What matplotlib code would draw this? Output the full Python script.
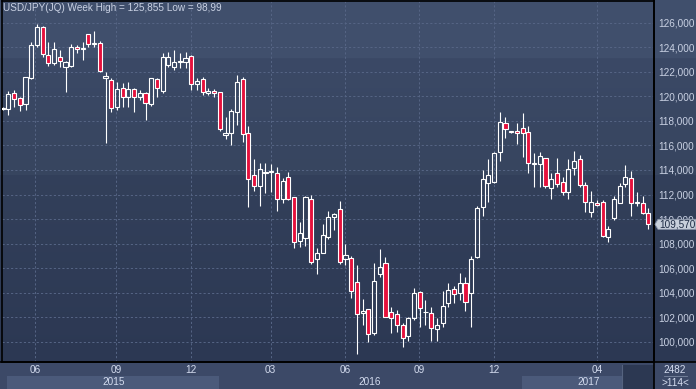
import numpy as np
import matplotlib
matplotlib.use("Agg")
import matplotlib.pyplot as plt
from matplotlib.colors import to_rgb
from matplotlib.patches import Rectangle, Polygon
from matplotlib.lines import Line2D

plt.rcParams['font.family'] = ['Liberation Sans', 'DejaVu Sans']

# weekly USD/JPY candles
opens = [118.95, 118.94, 120.25, 119.84, 119.37, 121.52, 124.18, 125.62, 123.34, 122.74,
         123.23, 122.37, 122.47, 124.04, 123.85, 125.05, 124.30, 124.32, 121.52, 121.33,
         119.15, 120.65, 119.97, 120.57, 119.97, 120.25, 119.37, 121.39, 120.46, 122.55,
         122.41, 122.80, 122.77, 123.29, 121.00, 121.39, 120.30, 120.46, 120.33, 116.82,
         116.99, 118.75, 121.41, 116.99, 113.59, 112.69, 113.74, 113.85, 113.73, 111.61,
         113.40, 111.77, 108.23, 108.43, 111.61, 106.72, 107.26, 108.56, 110.19, 110.79,
         106.72, 106.80, 104.84, 102.32, 102.64, 100.69, 105.52, 106.39, 102.45, 102.23,
         101.36, 100.49, 101.91, 104.08, 102.40, 102.32, 101.01, 101.50, 103.13, 104.27,
         104.00, 104.76, 103.95, 106.88, 110.96, 112.91, 113.04, 115.49, 117.85, 117.10,
         117.17, 117.39, 117.12, 114.50, 114.48, 114.95, 112.55, 113.73, 113.04, 112.23,
         114.13, 114.87, 112.77, 110.60, 111.33, 111.36, 108.56, 110.06, 111.33, 112.83,
         113.32, 111.41, 111.28, 110.52]
highs = [119.10, 120.46, 120.52, 119.97, 121.60, 124.45, 125.855, 125.73, 124.45, 124.45,
         123.78, 122.90, 124.24, 124.18, 124.45, 125.10, 125.32, 124.53, 122.01, 121.50,
         121.20, 121.11, 121.20, 120.65, 120.52, 120.35, 121.50, 121.47, 123.55, 123.64,
         123.78, 123.55, 123.64, 123.37, 121.49, 121.60, 120.65, 120.57, 120.35, 118.34,
         118.94, 121.74, 121.55, 117.58, 114.87, 114.59, 114.54, 114.46, 114.21, 113.32,
         113.81, 111.82, 109.78, 111.88, 111.96, 107.61, 109.57, 110.68, 110.47, 111.47,
         107.96, 106.99, 106.25, 103.46, 102.67, 106.39, 107.56, 106.88, 102.85, 102.58,
         101.55, 102.04, 104.35, 104.16, 103.40, 102.85, 101.91, 104.16, 104.76, 104.54,
         105.57, 105.30, 106.99, 111.06, 113.99, 114.87, 115.49, 118.70, 118.34, 117.20,
         117.85, 118.62, 117.58, 115.36, 115.49, 114.97, 113.73, 114.95, 113.45, 114.87,
         115.54, 115.22, 113.04, 112.31, 111.55, 111.55, 109.43, 111.88, 112.91, 114.40,
         113.94, 112.23, 111.88, 110.87]
lows = [118.85, 118.48, 119.15, 118.80, 118.90, 121.45, 124.00, 123.23, 122.47, 122.55,
        122.41, 120.38, 122.40, 123.55, 122.96, 124.04, 124.04, 121.95, 116.17, 118.75,
        118.90, 119.10, 119.15, 118.75, 119.70, 118.07, 119.21, 119.97, 120.25, 122.41,
        122.15, 122.28, 122.28, 120.52, 120.52, 120.11, 120.11, 119.97, 117.17, 116.50,
        116.01, 117.66, 116.30, 111.00, 112.31, 111.06, 112.14, 112.23, 110.68, 111.28,
        111.55, 107.61, 107.74, 107.80, 106.31, 105.52, 107.21, 108.37, 109.10, 106.31,
        106.25, 103.59, 98.99, 101.36, 100.00, 100.55, 105.30, 102.00, 100.73, 100.82,
        99.59, 100.08, 101.77, 101.22, 101.36, 100.08, 100.08, 101.22, 102.85, 103.13,
        103.40, 102.53, 101.22, 106.82, 110.25, 111.41, 112.91, 114.75, 116.58, 117.00,
        116.11, 115.08, 113.77, 112.63, 112.63, 112.53, 111.61, 112.63, 111.96, 111.63,
        113.59, 112.63, 110.60, 110.14, 111.06, 108.56, 108.15, 109.91, 111.28, 112.63,
        110.25, 111.06, 110.41, 109.16]
closes = [119.00, 120.16, 119.76, 119.27, 121.55, 124.18, 125.62, 123.42, 122.69, 123.83,
          122.88, 122.80, 124.04, 123.83, 123.88, 124.26, 124.33, 122.06, 121.68, 119.02,
          120.57, 119.97, 120.57, 119.92, 120.25, 119.43, 121.47, 120.65, 123.18, 123.23,
          122.82, 122.84, 123.10, 120.98, 121.27, 120.33, 120.46, 120.25, 117.31, 116.99,
          118.83, 121.19, 116.93, 113.24, 112.69, 114.05, 113.80, 113.90, 111.61, 113.07,
          111.66, 108.10, 108.84, 111.82, 106.52, 107.21, 108.70, 110.14, 110.38, 106.52,
          107.07, 104.16, 102.23, 102.53, 100.63, 104.95, 106.07, 102.04, 101.91, 101.36,
          100.28, 101.91, 104.00, 102.72, 102.44, 101.09, 101.36, 102.93, 104.22, 103.89,
          104.76, 103.21, 106.72, 110.92, 113.24, 113.59, 115.36, 117.93, 117.31, 117.12,
          116.99, 117.04, 114.54, 114.60, 115.14, 112.72, 113.24, 112.83, 112.23, 114.05,
          114.75, 112.77, 111.41, 111.41, 111.14, 108.62, 109.16, 111.61, 112.72, 113.40,
          111.28, 111.28, 110.47, 109.57]

# x axis labels (bar index where month/year starts)
month_pos = [5.7, 19.9, 32.9, 46.9, 59.97, 72.9, 86.05, 104.07]
month_labels = ['06', '09', '12', '03', '06', '09', '12', '04']
year_pos = [19.5, 64.2, 102.6]
year_labels = ['2015', '2016', '2017']
yticks = np.arange(100, 127, 2)

W, H = 696, 389
RED = '#e5113d'

fig = plt.figure(figsize=(W / 100, H / 100), dpi=100)

# background gradient for the whole figure
top = np.array(to_rgb('#404f6c'))
mid = np.array(to_rgb('#37455f'))
bot = np.array(to_rgb('#2c3853'))
rows = []
for r in range(H):
    if r < 58:
        c = top
    elif r < 362:
        t = (r - 58) / (362 - 58)
        c = mid * (1 - t) + bot * t if r >= 175 else top * 0.97 + mid * 0.03
        if 58 <= r < 175:
            c = np.array(to_rgb('#3b4966')) * (1 - (r - 58) / 117) + mid * ((r - 58) / 117)
    else:
        c = np.array(to_rgb('#3c4967'))
    rows.append(c)
grad = np.array(rows)[:, None, :]
bg = fig.add_axes([0, 0, 1, 1])
bg.imshow(grad, extent=[0, 1, 0, 1], aspect='auto', interpolation='nearest')
bg.set_xlim(0, 1)
bg.set_ylim(0, 1)
bg.axis('off')

ax = fig.add_axes([2 / W, 27 / H, 652 / W, 361 / H])
ax.set_facecolor('none')
ax.set_xlim(-0.12, 114.0)
ax.set_ylim(98.35, 127.77)

x = np.arange(len(opens))
o = np.array(opens)
c = np.array(closes)
lo_body = np.minimum(o, c)
hi_body = np.maximum(o, c)
up = c >= o
height = np.maximum(hi_body - lo_body, 0.06)

ax.vlines(x, lows, lo_body, color='white', lw=0.8, zorder=3)
ax.vlines(x, hi_body, highs, color='white', lw=0.8, zorder=3)
ax.bar(x[up], height[up], bottom=lo_body[up], width=0.72,
       facecolor='none', edgecolor='white', linewidth=0.8, zorder=4)
ax.bar(x[~up], height[~up], bottom=lo_body[~up], width=0.72,
       facecolor=RED, edgecolor='white', linewidth=0.8, zorder=4)

ax.set_yticks(yticks)
ax.set_yticklabels([f"{v:.3f}".replace('.', ',') for v in yticks])
ax.yaxis.tick_right()
ax.set_xticks(month_pos)
ax.set_xticklabels([])
ax.tick_params(axis='both', length=0, colors='#c9d1e3', labelsize=7.2)
ax.tick_params(axis='y', pad=3)
ax.grid(True, color='#566585', linestyle=(0, (2.2, 2.2)), lw=0.7)
ax.set_axisbelow(True)
for s in ax.spines.values():
    s.set_color('black')
    s.set_linewidth(1.2)

# last price marker
last = closes[-1]
yp = ax.transData.transform((0, last))[1]
x0 = ax.transAxes.transform((1, 0))[0]
poly = Polygon([(x0 + 1, yp), (x0 + 4, yp + 5), (W, yp + 5), (W, yp - 5), (x0 + 4, yp - 5)],
               closed=True, transform=None, facecolor='#c7cfdb', edgecolor='#8c97ab',
               lw=0.6, zorder=10, clip_on=False)
fig.patches.append(poly)
fig.text((x0 + 5) / W, yp / H, f"{last:.3f}".replace('.', ','), color='#1d2b44',
         fontsize=7.2, va='center', ha='left', zorder=11)

# bottom time strip
ax2 = fig.add_axes([2 / W, 0, 652 / W, 27 / H])
ax2.set_xlim(ax.get_xlim())
ax2.set_ylim(0, 1)
ax2.axis('off')
ax2.add_patch(Rectangle((0.75, 0), 37.15, 0.49, facecolor='#4b5a7a', edgecolor='none'))
ax2.add_patch(Rectangle((90.95, 0), 17.4, 0.49, facecolor='#4b5a7a', edgecolor='none'))
ax2.add_patch(Rectangle((108.4, 0), 5.6, 0.89, facecolor='#2c3852', edgecolor='none'))
ax2.axvline(108.4, ymax=0.89, color='#55637f', lw=0.8)
for p, lab in zip(month_pos, month_labels):
    ax2.text(p, 0.70, lab, ha='center', va='center', color='#d4dcef', fontsize=7.2)
for p, lab in zip(year_pos, year_labels):
    ax2.text(p, 0.27, lab, ha='center', va='center', color='#d4dcef', fontsize=7.2)

# right bottom box
fig.text(675 / W, 1 - 370 / H, '2482', ha='center', va='center', color='#d4dcef', fontsize=7.2)
fig.text(675 / W, 1 - 383 / H, '>114<', ha='center', va='center', color='#d4dcef', fontsize=7.2)
fig.lines.append(Line2D([664 / W, 687 / W], [1 - 375.7 / H] * 2, transform=fig.transFigure,
                        color='#7a86a0', lw=0.6))
fig.lines.append(Line2D([0, 1], [1 - 362 / H] * 2, transform=fig.transFigure, color='black', lw=1.2))
fig.lines.append(Line2D([654 / W] * 2, [0, 1], transform=fig.transFigure, color='black', lw=1.2))

fig.text(3 / W, 1 - 8 / H, 'USD/JPY(JQ) Week High = 125,855 Low = 98,99',
         color='#c9d1e3', fontsize=7.2, ha='left', va='center')

fig.savefig('out.png', dpi=100)
